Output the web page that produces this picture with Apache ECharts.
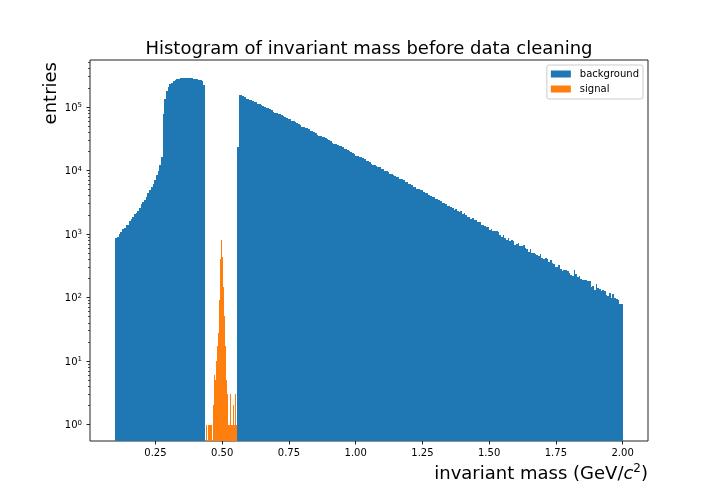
<!DOCTYPE html>
<html>
<head>
<meta charset="utf-8">
<style>html,body{margin:0;padding:0;background:#fff}#c{width:720px;height:504px}</style>
<script src="https://cdn.jsdelivr.net/npm/echarts@6/dist/echarts.min.js"></script>
</head>
<body>
<div id="c"></div>
<script>
const backgroundStart = 0.1;
const backgroundBinWidth = 1.9 / 300;
const backgroundValues = [
 865,897,1000,1075,1199,1243,1386,1386,1603,1722,1853,2065,2142,2303,2565,2965,3190,3428,3828,4424,
 4933,5498,6130,7086,8492,9817,12210,16330,77600,133700,178600,206500,230200,238800,256500,266100,276000,276000,
 286400,286400,286400,286400,286400,286400,286400,286400,276000,276000,276000,266100,266100,256500,222000,
 0,0,0,0,0,0,0,0,0,0,0,0,0,0,0,0,0,0,0,
 23400,
 154500,154500,149000,143700,133700,133700,128900,128900,124300,119900,119900,111500,111500,107400,103700,100000,96400,96400,93100,89700,
 83400,80500,80500,77600,77600,74800,72100,69700,67100,64700,64700,60200,60200,58100,56000,54000,52100,48400,48400,46700,
 46700,45100,41900,41900,40400,39000,36200,34900,34900,33700,33700,32500,31300,30200,29200,27100,26100,26100,25200,24300,
 24300,23400,21800,21800,21000,20300,19500,18900,18200,16900,16900,16300,16300,15700,15200,14100,14100,13600,12700,12200,
 12200,11800,11300,11300,10600,10600,9820,9820,9460,8810,8810,8490,8190,7900,7900,7350,7350,7080,6590,6590,
 6130,6130,5910,5500,5500,5110,5110,4930,4930,4580,4420,4420,4110,
 3964,3828,3828,3556,3556,3428,3311,3076,3076,2965,2761,2761,2661,2565,2388,2477,2301,2218,2301,2065,
 2143,1991,1853,1853,1722,1786,1660,1660,1545,1545,1386,1386,1337,1288,1288,1156,1199,1114,1114,1114,
 1074,964,897,964,865,805,865,776,805,776,671,697,722,647,647,671,602,581,521,581,
 502,502,484,467,451,484,419,404,419,404,362,390,349,337,302,302,325,281,261,271,
 271,261,243,226,218,271,234,210,218,195,189,189,189,182,182,146,152,131,163,141,
 136,127,131,127,110,106,118,98,114,98,95,91,79,79
];
const signalStart = 0.4402;
const signalBinWidth = 0.00374;
const signalValues = [1,0,1,1,1,1,0,2,6,5,10,17,28,91,404,805,434,146,51,17,5,3,1,1,3,1,1,2,1,3,1];
const xTicks = [0.25,0.5,0.75,1.0,1.25,1.5,1.75,2.0];
const yTicks = [1,10,100,1000,10000,100000];
const yMinorTicks = [2,3,4,5,6,7,8,9,20,30,40,50,60,70,80,90,200,300,400,500,600,700,800,900,
 2000,3000,4000,5000,6000,7000,8000,9000,20000,30000,40000,50000,60000,70000,80000,90000,200000,300000,400000,500000];
const xRange = [0.005, 2.095];
const yRange = [0.55, 549000];
const FONT = 'DejaVu Sans';
const INK = '#222';

function toRows(values, start, width) {
  return values.map((v, i) => [start + i * width, start + (i + 1) * width, v]);
}
function binItem(params, api) {
  const v = api.value(2);
  if (!(v > 0)) return null;
  const cs = params.coordSys;
  const a = api.coord([api.value(0), v]);
  const b = api.coord([api.value(1), v]);
  const x0 = Math.round(a[0]), x1 = Math.max(Math.round(b[0]), x0 + 1);
  const y = Math.round(a[1]);
  return {
    type: 'rect',
    shape: { x: x0, y: y, width: x1 - x0, height: cs.y + cs.height - y },
    style: { fill: api.visual('color') }
  };
}
const chart = echarts.init(document.getElementById('c'));
chart.setOption({
  animation: false,
  backgroundColor: '#fff',
  textStyle: { fontFamily: FONT },
  title: {
    text: 'Histogram of invariant mass before data cleaning',
    left: 364, top: 35, textAlign: 'center',
    textStyle: { fontFamily: FONT, fontSize: 18, fontWeight: 'normal', color: '#000' }
  },
  grid: { left: 90, right: 72, top: 60, bottom: 63, show: true, borderColor: INK, borderWidth: 1, backgroundColor: '#fff' },
  legend: {
    right: 77, top: 65, orient: 'vertical', align: 'left',
    padding: [4, 4, 5, 4], itemGap: 5, itemWidth: 20, itemHeight: 7,
    borderColor: '#ccc', borderWidth: 1, borderRadius: 2, backgroundColor: '#fff',
    textStyle: { fontFamily: FONT, fontSize: 10, color: '#000', padding: [0,0,0,4] },
    data: [{ name: 'background', icon: 'rect' }, { name: 'signal', icon: 'rect' }]
  },
  xAxis: {
    type: 'value', min: xRange[0], max: xRange[1],
    axisLine: { show: false, onZero: false },
    axisTick: { show: true, length: 3.5, customValues: xTicks, lineStyle: { color: INK, width: 1 } },
    axisLabel: { customValues: xTicks, fontFamily: FONT, fontSize: 10, color: '#000', margin: 7, formatter: v => v.toFixed(2) },
    splitLine: { show: false },
    name: 'invariant mass (GeV/{i|c}{s|2}{b|)}',
    nameLocation: 'end', nameGap: 0,
    nameTextStyle: {
      fontFamily: FONT, fontSize: 18, color: '#000', align: 'right', verticalAlign: 'top', padding: [22,0,0,0],
      rich: {
        i: { fontFamily: FONT, fontSize: 18, fontStyle: 'italic', color: '#000' },
        s: { fontFamily: FONT, fontSize: 12, color: '#000', verticalAlign: 'top', padding: [0,0,10,0] },
        b: { fontFamily: FONT, fontSize: 18, color: '#000' }
      }
    }
  },
  yAxis: [{
    type: 'log', logBase: 10, min: yRange[0], max: yRange[1], position: 'left',
    axisLine: { show: false, onZero: false },
    axisTick: { show: true, length: 3.5, customValues: yTicks, lineStyle: { color: INK, width: 1 } },
    axisLabel: {
      customValues: yTicks, color: '#000', margin: 8, padding: [2,0,0,0],
      formatter: v => '{b|10}{s|' + Math.round(Math.log10(v)) + '}',
      rich: {
        b: { fontFamily: FONT, fontSize: 10, color: '#000' },
        s: { fontFamily: FONT, fontSize: 7, color: '#000', padding: [0,0,5,0] }
      }
    },
    splitLine: { show: false },
    name: 'entries', nameLocation: 'end', nameRotate: 90, nameGap: -2,
    nameTextStyle: { fontFamily: FONT, fontSize: 18, color: '#000', align: 'right', verticalAlign: 'bottom', padding: [0,0,30,0] }
  }, {
    type: 'log', logBase: 10, min: yRange[0], max: yRange[1], position: 'left',
    axisLine: { show: false },
    axisTick: { show: true, length: 2, customValues: yMinorTicks, lineStyle: { color: INK, width: 0.8 } },
    axisLabel: { show: false },
    splitLine: { show: false }
  }],
  series: [{
    name: 'background', type: 'custom', renderItem: binItem, clip: true,
    itemStyle: { color: '#1f77b4' }, encode: { x: [0, 1], y: 2 },
    data: toRows(backgroundValues, backgroundStart, backgroundBinWidth)
  }, {
    name: 'signal', type: 'custom', renderItem: binItem, clip: true,
    itemStyle: { color: '#ff7f0e' }, encode: { x: [0, 1], y: 2 },
    data: toRows(signalValues, signalStart, signalBinWidth)
  }]
});
</script>
</body>
</html>
